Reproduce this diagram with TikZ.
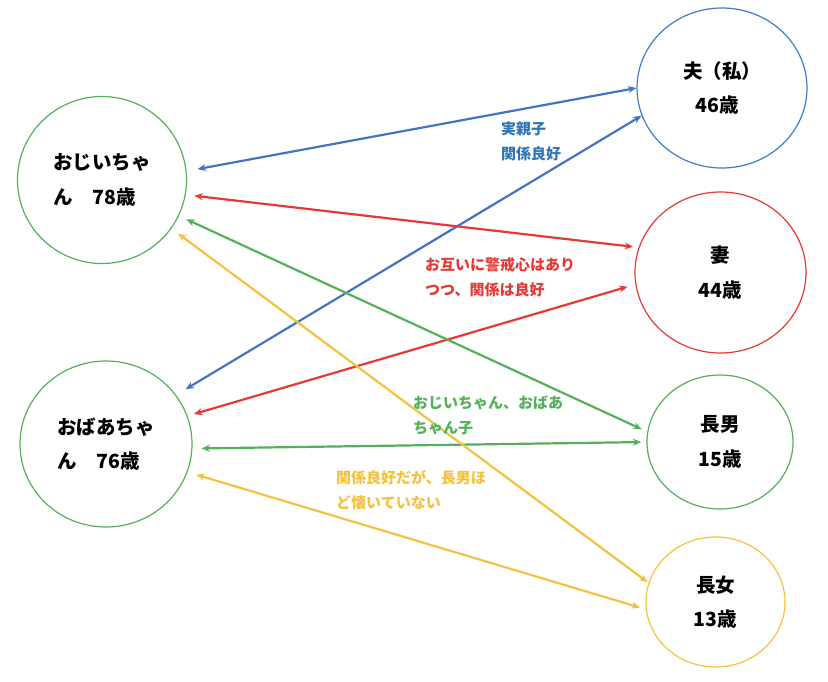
\documentclass[tikz,border=0pt]{standalone}
\usepackage{fontspec}
\newfontfamily\jp{Noto Sans CJK JP}
\usetikzlibrary{shapes.geometric,arrows.meta}
\definecolor{cblue}{RGB}{68,114,196}
\definecolor{cbluetext}{RGB}{46,117,182}
\definecolor{cbluecirc}{RGB}{62,125,200}
\definecolor{cred}{RGB}{229,57,53}
\definecolor{cgreen}{RGB}{84,176,90}
\definecolor{cyellow}{RGB}{244,194,64}
\tikzset{
  person/.style={ellipse, draw, line width=1.2pt, inner sep=0pt, text=black,
    font=\jp\bfseries\fontsize{19.5}{34.5}\selectfont},
  lbl/.style={inner sep=0pt, align=left, anchor=west,
    font=\jp\bfseries\fontsize{15}{25}\selectfont},
  arr/.style={line width=2.2pt, {Stealth[length=8.5pt,width=7pt]}-{Stealth[length=8.5pt,width=7pt]}}
}
\begin{document}
\begin{tikzpicture}[x=1pt,y=-1pt]
\useasboundingbox[fill=white] (0,0) rectangle (828,681);
% people
\node[person, draw=cgreen, align=left, minimum width=169, minimum height=167] (gp) at (102,180) {おじいちゃ\\ん　78歳};
\node[person, draw=cgreen, align=left, minimum width=172, minimum height=166] (gm) at (106,444) {おばあちゃ\\ん　76歳};
\node[person, draw=cbluecirc, align=center, minimum width=170, minimum height=160] (hus) at (722,88) {夫（私）\\46歳\hspace*{10pt}};
\node[person, draw=cred, align=center, minimum width=171, minimum height=161] (wf) at (720.5,272.5) {妻\\44歳};
\node[person, draw=cgreen, align=center, minimum width=146, minimum height=134] (sn) at (720,442) {長男\\15歳};
\node[person, draw=cyellow, align=center, minimum width=139, minimum height=130] (dt) at (715.5,602) {長女\\13歳};
% connectors
\draw[arr, cblue, shorten <=11pt] (gp.6) -- (hus.180);
\draw[arr, cblue, shorten <=11pt] (gm.35) -- (hus.199);
\draw[arr, cred, shorten <=8.6pt, shorten >=5.5pt] (gp.-10.6) -- (wf.163.8);
\draw[arr, cred, shorten <=6.5pt, shorten >=8pt] (gm.19.8) -- (wf.188.3);
\draw[arr, cgreen, shorten <=8pt, shorten >=6pt] (gp.-25.7) -- (sn.172);
\draw[arr, cgreen, shorten <=9pt, shorten >=5pt] (gm.-3.7) -- (sn.180.5);
\draw[arr, cyellow, shorten <=8pt, shorten >=1pt] (gp.-35.2) -- (dt.164.3);
\draw[arr, cyellow, shorten <=9pt, shorten >=6pt] (gm.-19.2) -- (dt.186);
% labels
\node[lbl, text=cbluetext] (lb) at (501,141.5) {実親子\\関係良好};
\node[lbl, text=cred] (lr) at (425,277) {お互いに警戒心はあり\\つつ、関係は良好};
\node[lbl, text=cgreen] (lg) at (413,415.5) {おじいちゃん、おばあ\\ちゃん子};
\node[lbl, text=cyellow] (ly) at (336,490.5) {関係良好だが、長男ほ\\ど懐いていない};
\end{tikzpicture}
\end{document}
